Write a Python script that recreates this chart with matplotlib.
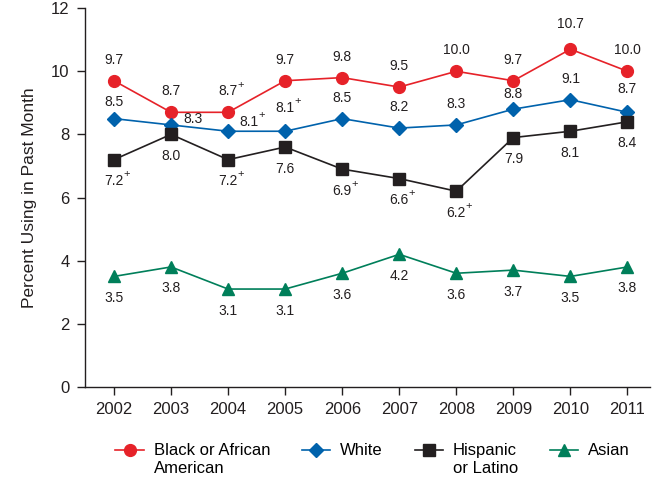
import numpy as np
import matplotlib
matplotlib.use("Agg")
import matplotlib.pyplot as plt
from matplotlib.lines import Line2D
from matplotlib.legend_handler import HandlerLine2D

plt.rcParams['font.family'] = ['Liberation Sans', 'DejaVu Sans']

years = [2002, 2003, 2004, 2005, 2006, 2007, 2008, 2009, 2010, 2011]
black = [9.7, 8.7, 8.7, 9.7, 9.8, 9.5, 10.0, 9.7, 10.7, 10.0]
white = [8.5, 8.3, 8.1, 8.1, 8.5, 8.2, 8.3, 8.8, 9.1, 8.7]
hispanic = [7.2, 8.0, 7.2, 7.6, 6.9, 6.6, 6.2, 7.9, 8.1, 8.4]
asian = [3.5, 3.8, 3.1, 3.1, 3.6, 4.2, 3.6, 3.7, 3.5, 3.8]

# "+" = significantly different from 2011
black_plus = [2004]
white_plus = [2004, 2005]
hispanic_plus = [2002, 2004, 2006, 2007, 2008]
asian_plus = []

series = [
    ("Black or African\nAmerican", black, black_plus, "#E62229", "o", 8.5, 15),
    ("White\n ", white, white_plus, "#0062AC", "D", 7, 15),
    ("Hispanic\nor Latino", hispanic, hispanic_plus, "#231F20", "s", 8.5, -15.5),
    ("Asian\n ", asian, asian_plus, "#007F5A", "^", 8.5, -15.5),
]

# label offsets (points) where the default would collide
tweaks = {
    ("White\n ", 2002): (0, 12),
    ("White\n ", 2003): (16, 4),
    ("White\n ", 2004): (15, 7),
    ("White\n ", 2005): (0, 16.5),
    ("White\n ", 2009): (0, 11),
    ("White\n ", 2011): (0, 17),
    ("Black or African\nAmerican", 2010): (0, 18),
}

fig = plt.figure(figsize=(6.63, 4.8), dpi=100)
ax = fig.add_axes([0.128, 0.194, 0.852, 0.789])

for name, vals, plus, col, mk, ms, off in series:
    ax.plot(years, vals, color=col, marker=mk, markersize=ms, linewidth=1.2, zorder=3)
    for yr, v in zip(years, vals):
        dx, dy = tweaks.get((name, yr), (0, off))
        ax.annotate(f"{v:.1f}", (yr, v), xytext=(dx, dy), textcoords="offset points",
                    ha="center", va="center", fontsize=10, color="#231F20")
        if yr in plus:
            ax.annotate("+", (yr, v), xytext=(dx + 9, dy + 5), textcoords="offset points",
                        ha="center", va="center", fontsize=8, color="#231F20")

ax.set_xlim(2001.49, 2011.39)
ax.set_ylim(0, 12)
ax.set_xticks(years)
ax.set_yticks(range(0, 13, 2))
ax.spines["top"].set_visible(False)
ax.spines["right"].set_visible(False)
for s in ["left", "bottom"]:
    ax.spines[s].set_color("#231F20")
    ax.spines[s].set_linewidth(1)
ax.tick_params(direction="out", length=6, width=1, colors="#231F20", labelsize=12, pad=5)
ax.set_ylabel("Percent Using in Past Month", fontsize=12.5, color="#231F20", labelpad=10)


class TopLine(HandlerLine2D):
    # put the handle on the first text line instead of the middle
    def create_artists(self, legend, orig_handle, xdescent, ydescent, width, height, fontsize, trans):
        return super().create_artists(legend, orig_handle, xdescent, ydescent - 1.2 * fontsize,
                                      width, height, fontsize, trans)


handles = [Line2D([0], [0], color=col, marker=mk, markersize=ms, linewidth=1.2)
           for name, vals, plus, col, mk, ms, off in series]
labels = [s[0] for s in series]
fig.legend(handles, labels, loc="upper center", bbox_to_anchor=(0.562, 0.108), ncol=4,
           frameon=False, fontsize=12, handlelength=1.7, columnspacing=1.9,
           handletextpad=0.6, labelspacing=0.2,
           handler_map={Line2D: TopLine()})

fig.savefig("out.png", dpi=100)
